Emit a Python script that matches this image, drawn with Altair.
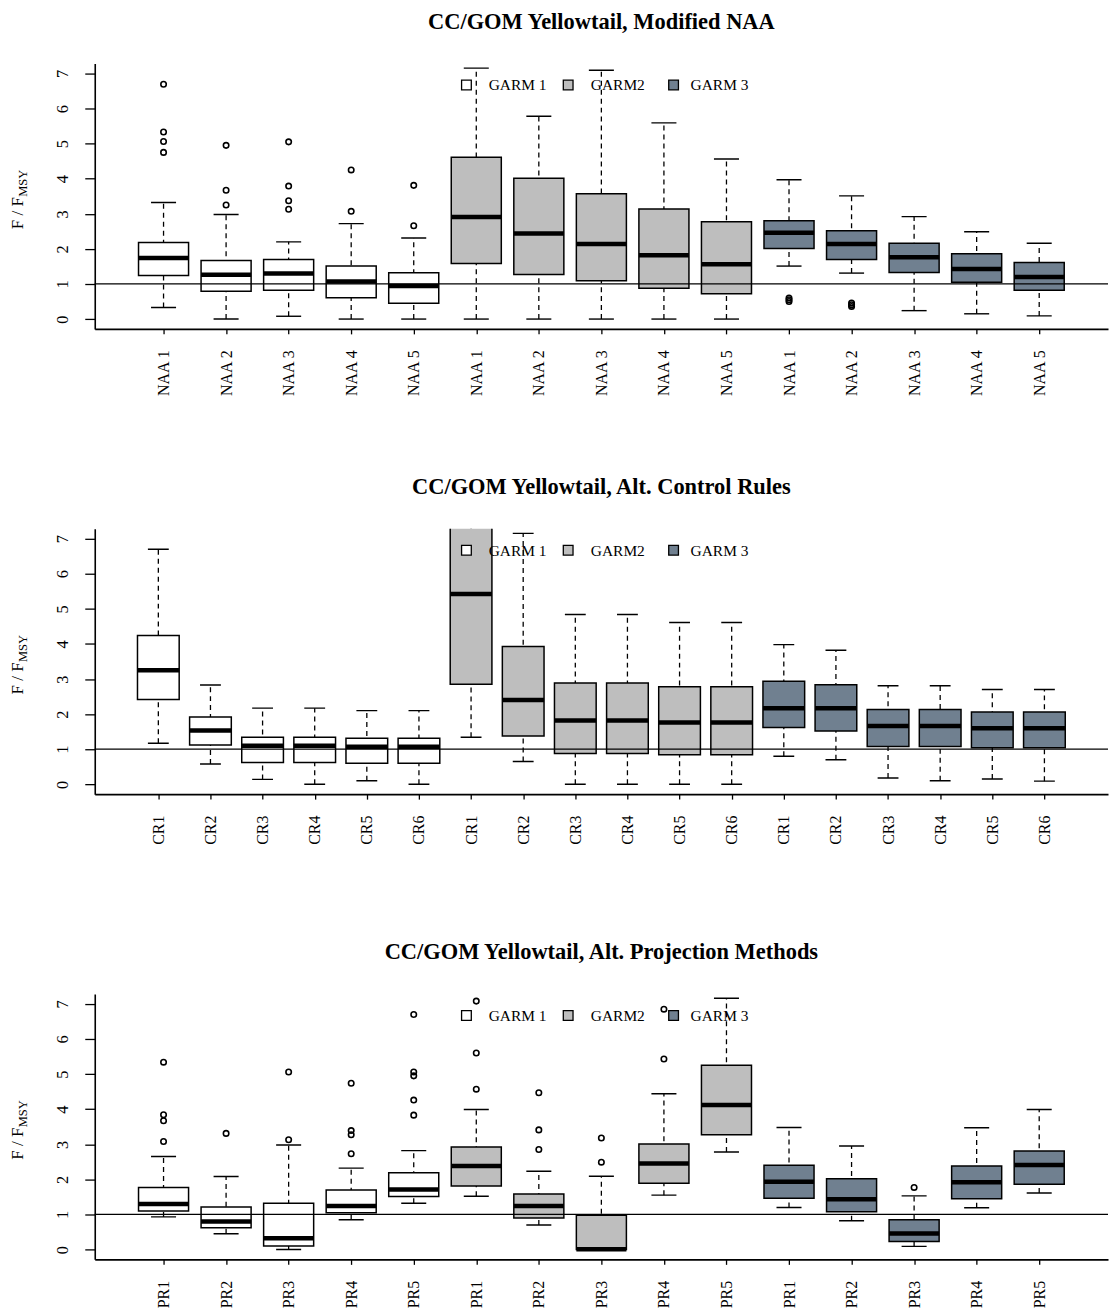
import altair as alt
import pandas as pd

FONT = "Liberation Serif"
GROUP_COLORS = ["#FFFFFF", "#BEBEBE", "#708090"]
GROUP_NAMES = ["GARM 1", "GARM2", "GARM 3"]
REF_LINE = 1
Y_TICKS = [0, 1, 2, 3, 4, 5, 6, 7]

# ---------------- Panel 1: Modified NAA ----------------
NAA_TITLE = "CC/GOM Yellowtail, Modified NAA"
NAA_LABELS = ["NAA 1", "NAA 2", "NAA 3", "NAA 4", "NAA 5"] * 3
NAA_LO = [0.33, 0.00, 0.08, 0.00, 0.00,
          0.00, 0.00, 0.00, 0.00, 0.00,
          1.51, 1.31, 0.24, 0.15, 0.09]
NAA_Q1 = [1.24, 0.79, 0.82, 0.61, 0.45,
          1.58, 1.27, 1.09, 0.88, 0.72,
          2.01, 1.70, 1.33, 1.05, 0.82]
NAA_MED = [1.74, 1.26, 1.30, 1.07, 0.94,
           2.91, 2.44, 2.14, 1.82, 1.56,
           2.46, 2.14, 1.76, 1.43, 1.20]
NAA_Q3 = [2.18, 1.67, 1.70, 1.51, 1.32,
          4.61, 4.01, 3.57, 3.14, 2.77,
          2.80, 2.52, 2.16, 1.86, 1.61]
NAA_HI = [3.32, 2.98, 2.20, 2.72, 2.31,
          7.15, 5.78, 7.09, 5.59, 4.56,
          3.97, 3.51, 2.92, 2.49, 2.16]
NAA_OUT = [[6.69, 5.33, 5.06, 4.75], [4.95, 3.67, 3.25], [5.05, 3.79, 3.37, 3.13],
           [4.25, 3.07], [3.81, 2.66],
           [], [], [], [], [],
           [0.50, 0.55, 0.60], [0.36, 0.41, 0.46], [], [], []]

# ---------------- Panel 2: Alt. Control Rules ----------------
CR_TITLE = "CC/GOM Yellowtail, Alt. Control Rules"
CR_LABELS = ["CR1", "CR2", "CR3", "CR4", "CR5", "CR6"] * 3
CR_LO = [1.17, 0.58, 0.14, 0.00, 0.10, 0.00,
         1.34, 0.65, 0.00, 0.00, 0.00, 0.00,
         0.80, 0.70, 0.18, 0.10, 0.15, 0.09]
CR_Q1 = [2.42, 1.12, 0.62, 0.62, 0.60, 0.60,
         2.85, 1.38, 0.88, 0.88, 0.84, 0.84,
         1.62, 1.52, 1.08, 1.08, 1.04, 1.04]
CR_MED = [3.25, 1.53, 1.10, 1.10, 1.07, 1.07,
          5.42, 2.40, 1.82, 1.82, 1.76, 1.76,
          2.17, 2.17, 1.66, 1.66, 1.60, 1.60]
CR_Q3 = [4.24, 1.92, 1.34, 1.34, 1.31, 1.31,
         8.60, 3.93, 2.89, 2.89, 2.78, 2.78,
         2.94, 2.84, 2.13, 2.13, 2.06, 2.06]
CR_HI = [6.70, 2.83, 2.17, 2.17, 2.10, 2.10,
         12.0, 7.15, 4.84, 4.84, 4.61, 4.61,
         3.98, 3.82, 2.81, 2.81, 2.70, 2.70]
CR_OUT = [[] for _ in range(18)]

# ---------------- Panel 3: Alt. Projection Methods ----------------
PR_TITLE = "CC/GOM Yellowtail, Alt. Projection Methods"
PR_LABELS = ["PR1", "PR2", "PR3", "PR4", "PR5"] * 3
PR_LO = [0.93, 0.45, 0.00, 0.85, 1.32,
         1.52, 0.70, 0.00, 1.55, 2.78,
         1.20, 0.82, 0.09, 1.19, 1.61]
PR_Q1 = [1.10, 0.62, 0.10, 1.05, 1.51,
         1.81, 0.90, 0.00, 1.89, 3.27,
         1.46, 1.08, 0.23, 1.45, 1.86]
PR_MED = [1.30, 0.80, 0.32, 1.24, 1.71,
          2.38, 1.24, 0.01, 2.45, 4.12,
          1.93, 1.43, 0.46, 1.92, 2.41]
PR_Q3 = [1.77, 1.21, 1.32, 1.70, 2.19,
         2.92, 1.58, 0.975, 3.01, 5.25,
         2.40, 2.02, 0.85, 2.38, 2.81]
PR_HI = [2.65, 2.08, 2.98, 2.32, 2.82,
         3.99, 2.23, 2.09, 4.44, 7.16,
         3.48, 2.95, 1.53, 3.47, 3.99]
PR_OUT = [[5.34, 3.84, 3.67, 3.08], [3.31], [5.06, 3.13], [4.74, 3.39, 3.27, 2.73],
          [6.70, 5.06, 4.95, 4.26, 3.83],
          [7.08, 5.60, 4.57], [4.47, 3.41, 2.85], [3.18, 2.49], [6.85, 5.43], [],
          [], [], [1.77], [], []]

# ---------------- layout constants ----------------
W = 1016
H = 266
LEGEND_BOX_X = [372.7, 474.7, 580.4]
LEGEND_TEXT_X = [395.0, 497.4, 597.4]


def panel(title, labels, lo, q1, med, q3, hi, outliers, frame=False):
    n = len(labels)
    per = n // 3
    df = pd.DataFrame({
        "pos": list(range(1, n + 1)),
        "lo": lo, "q1": q1, "med": med, "q3": q3, "hi": hi,
        "color": [GROUP_COLORS[i // per] for i in range(n)],
    })
    rows = []
    for i, vals in enumerate(outliers):
        for v in vals:
            rows.append({"pos": i + 1, "value": v})
    odf = pd.DataFrame(rows if rows else [{"pos": 1, "value": -99.0}])

    ext = 0.04 * n
    xscale = alt.Scale(domain=[0.5 - ext, n + 0.5 + ext], nice=False, zero=False)
    yscale = alt.Scale(domain=[-0.28, 7.28], nice=False, zero=False)
    label_expr = "[" + ",".join("'%s'" % l for l in labels) + "][datum.value - 1]"
    xaxis = alt.Axis(values=list(range(1, n + 1)), labelExpr=label_expr, title="",
                     grid=False, tickSize=5, tickWidth=1.3, tickColor="black",
                     domainColor="black", domainWidth=1.6, labelAngle=270,
                     labelAlign="right", labelBaseline="middle", labelPadding=16,
                     labelFontSize=16, labelFont=FONT, labelColor="black",
                     labelFlush=False, labelOverlap=False)
    yaxis = alt.Axis(values=Y_TICKS, title="", grid=False, tickSize=10, tickWidth=1.3,
                     tickColor="black", domainColor="black", domainWidth=1.6,
                     labelAngle=270, labelAlign="center", labelBaseline="alphabetic",
                     labelPadding=17.5, labelFontSize=16.5, labelFont=FONT,
                     labelColor="black", labelFlush=False, labelOverlap=False)

    def X(f):
        return alt.X(f, scale=xscale, axis=xaxis)

    def Y(f):
        return alt.Y(f, scale=yscale, axis=yaxis)

    base = alt.Chart(df).transform_calculate(
        bl="datum.pos - 0.4", br="datum.pos + 0.4",
        cl="datum.pos - 0.2", cr="datum.pos + 0.2")

    whisker = base.mark_rule(color="black", strokeWidth=1.3, strokeDash=[5, 4], clip=True).encode(
        x=X("pos:Q"), y=Y("lo:Q"), y2="hi:Q")
    cap_hi = base.mark_rule(color="black", strokeWidth=1.4, clip=True).encode(
        x=X("cl:Q"), x2="cr:Q", y=Y("hi:Q"))
    cap_lo = base.mark_rule(color="black", strokeWidth=1.4, clip=True).encode(
        x=X("cl:Q"), x2="cr:Q", y=Y("lo:Q"))
    box = base.mark_rect(stroke="black", strokeWidth=1.5, clip=True).encode(
        x=X("bl:Q"), x2="br:Q", y=Y("q1:Q"), y2="q3:Q",
        fill=alt.Fill("color:N", scale=None))
    median = base.mark_rule(color="black", strokeWidth=4.5, strokeCap="butt", clip=True).encode(
        x=X("bl:Q"), x2="br:Q", y=Y("med:Q"))
    outl = alt.Chart(odf).mark_point(shape="circle", filled=False, color="black",
                                     strokeWidth=1.6, size=30, opacity=1, clip=True).encode(
        x=X("pos:Q"), y=Y("value:Q"))
    ref = alt.Chart(pd.DataFrame({"ref": [REF_LINE]})).mark_rule(
        color="black", strokeWidth=1.3).encode(y=Y("ref:Q"))

    tdf = pd.DataFrame({"t": [title]})
    title_mark = alt.Chart(tdf).mark_text(font=FONT, fontSize=22.5, fontWeight="bold",
                                          align="center", baseline="alphabetic",
                                          color="black").encode(
        x=alt.value(W / 2), y=alt.value(-35), text="t:N")
    ylab_main = alt.Chart(pd.DataFrame({"t": ["F / F"]})).mark_text(
        font=FONT, fontSize=17, angle=270, align="left", baseline="alphabetic",
        color="black").encode(x=alt.value(-72), y=alt.value(166), text="t:N")
    ylab_sub = alt.Chart(pd.DataFrame({"t": ["MSY"]})).mark_text(
        font=FONT, fontSize=12.5, angle=270, align="left", baseline="alphabetic",
        color="black").encode(x=alt.value(-68), y=alt.value(133.5), text="t:N")

    layers = []
    if frame:
        layers.append(alt.Chart(pd.DataFrame({"a": [0]})).mark_rect(opacity=0).encode(
            x=alt.value(-94.3), x2=alt.value(W), y=alt.value(-61.1), y2=alt.value(H)))
    layers += [whisker, cap_hi, cap_lo, box, median, outl, ref,
               title_mark, ylab_main, ylab_sub]
    for i, name in enumerate(GROUP_NAMES):
        ld = pd.DataFrame({"t": [name], "c": [GROUP_COLORS[i]]})
        layers.append(alt.Chart(ld).mark_point(shape="square", filled=True, size=95,
                                               stroke="black", strokeWidth=1.3,
                                               opacity=1).encode(
            x=alt.value(LEGEND_BOX_X[i]), y=alt.value(21.5),
            fill=alt.Fill("c:N", scale=None)))
        layers.append(alt.Chart(ld).mark_text(font=FONT, fontSize=15.5, align="left",
                                              baseline="alphabetic", color="black").encode(
            x=alt.value(LEGEND_TEXT_X[i]), y=alt.value(26.8), text="t:N"))
    return alt.layer(*layers).properties(width=W, height=H)


p1 = panel(NAA_TITLE, NAA_LABELS, NAA_LO, NAA_Q1, NAA_MED, NAA_Q3, NAA_HI, NAA_OUT, frame=True)
p2 = panel(CR_TITLE, CR_LABELS, CR_LO, CR_Q1, CR_MED, CR_Q3, CR_HI, CR_OUT)
p3 = panel(PR_TITLE, PR_LABELS, PR_LO, PR_Q1, PR_MED, PR_Q3, PR_HI, PR_OUT)

chart = alt.vconcat(p1, p2, p3, spacing=200.5, bounds="flush").properties(
    padding={"left": 0, "top": 0, "right": 0, "bottom": 4}
).configure(font=FONT, background="white").configure_view(stroke="transparent")

chart.save("out.html", embed_options={"renderer": "svg", "actions": False})
